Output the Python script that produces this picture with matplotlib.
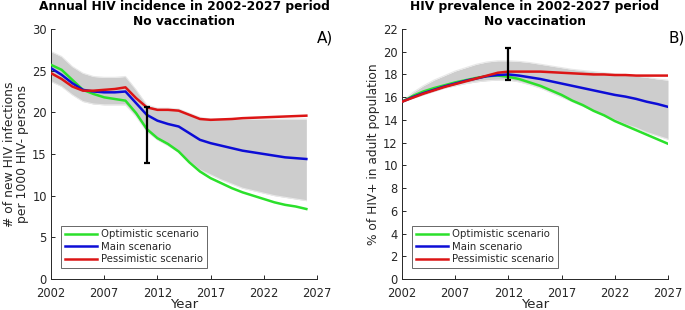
import matplotlib
matplotlib.use("Agg")
import matplotlib.pyplot as plt
import numpy as np

# ---------------- data ----------------
years_inc = list(range(2002, 2027))
inc_optimistic = [25.7, 25.1, 23.9, 22.7, 22.2, 21.8, 21.6, 21.4, 19.9, 18.0, 16.9, 16.2, 15.3,
                  14.0, 12.9, 12.1, 11.5, 10.9, 10.4, 10.0, 9.6, 9.2, 8.9, 8.7, 8.4]
inc_main = [25.3, 24.5, 23.5, 22.7, 22.5, 22.4, 22.4, 22.5, 21.1, 19.7, 19.0, 18.6, 18.3,
            17.5, 16.7, 16.3, 16.0, 15.7, 15.4, 15.2, 15.0, 14.8, 14.6, 14.5, 14.4]
inc_pessimistic = [24.7, 24.0, 23.1, 22.6, 22.6, 22.7, 22.8, 23.0, 21.7, 20.6, 20.3, 20.3, 20.2,
                   19.7, 19.2, 19.1, 19.15, 19.2, 19.3, 19.35, 19.4, 19.45, 19.5, 19.55, 19.6]
inc_band_upper = [27.3, 26.7, 25.5, 24.7, 24.3, 24.2, 24.2, 24.3, 22.7, 20.9, 20.5, 20.5, 20.4,
                  19.9, 19.4, 19.2, 19.2, 19.2, 19.2, 19.2, 19.2, 19.2, 19.2, 19.2, 19.2]
inc_band_lower = [23.7, 23.1, 22.1, 21.3, 21.0, 20.9, 20.9, 20.9, 19.5, 17.7, 16.7, 16.0, 15.2,
                  14.1, 13.1, 12.5, 11.9, 11.4, 10.9, 10.6, 10.3, 10.0, 9.8, 9.6, 9.4]
inc_err_year = 2011
inc_err_low, inc_err_high = 13.9, 20.7

years_prev = list(range(2002, 2028))
prev_optimistic = [15.6, 16.1, 16.5, 16.8, 17.05, 17.3, 17.5, 17.7, 17.85, 17.9, 17.8, 17.6, 17.3,
                   17.0, 16.6, 16.2, 15.7, 15.3, 14.8, 14.4, 13.9, 13.5, 13.1, 12.7, 12.3, 11.9]
prev_main = [15.6, 16.0, 16.35, 16.65, 16.95, 17.2, 17.45, 17.65, 17.85, 17.95, 18.0, 17.9, 17.75,
             17.6, 17.4, 17.2, 17.0, 16.8, 16.6, 16.4, 16.2, 16.05, 15.85, 15.6, 15.4, 15.15]
prev_pessimistic = [15.6, 15.95, 16.3, 16.6, 16.9, 17.15, 17.4, 17.65, 17.9, 18.15, 18.25, 18.25, 18.25,
                    18.25, 18.2, 18.15, 18.1, 18.05, 18.0, 18.0, 17.95, 17.95, 17.9, 17.9, 17.9, 17.9]
prev_band_upper = [15.6, 16.4, 17.0, 17.5, 17.9, 18.3, 18.6, 18.9, 19.1, 19.2, 19.2, 19.15, 19.05,
                   18.9, 18.75, 18.6, 18.45, 18.35, 18.25, 18.15, 18.05, 17.95, 17.85, 17.75, 17.6, 17.5]
prev_band_lower = [15.6, 15.9, 16.2, 16.5, 16.8, 17.0, 17.2, 17.35, 17.45, 17.5, 17.5, 17.35, 17.1,
                   16.8, 16.4, 16.0, 15.6, 15.2, 14.8, 14.4, 14.0, 13.6, 13.3, 12.9, 12.6, 12.3]
prev_err_year = 2012
prev_err_low, prev_err_high = 17.5, 20.3

legend_labels = ["Optimistic scenario", "Main scenario", "Pessimistic scenario"]
xticks = [2002, 2007, 2012, 2017, 2022, 2027]

# ---------------- style ----------------
C_GREEN = "#2be02b"
C_BLUE = "#0d0dd6"
C_RED = "#dc1515"
C_BAND = "#cdcdcd"
TXT = "#262626"
TITLE_FS = 8.8

plt.rcParams["font.family"] = ["DejaVu Sans"]

fig = plt.figure(figsize=(6.85, 3.10), dpi=100)
axA = fig.add_axes([51 / 685, 31 / 310, 266 / 685, 250 / 310])
axB = fig.add_axes([402 / 685, 31 / 310, 266 / 685, 250 / 310])


def panel(ax, yrs, opt, main, pes, up, lo, ey, elo, ehi, ylim, yticks, title1, title2,
          ylabel, ylsize, tag):
    ax.fill_between(yrs, lo, up, color=C_BAND, lw=0, zorder=1)
    ax.plot(yrs, up, color="#e8e8e8", lw=0.8, zorder=1.5)
    ax.plot(yrs, lo, color="#e8e8e8", lw=0.8, zorder=1.5)
    l1, = ax.plot(yrs, opt, color=C_GREEN, lw=1.8, zorder=3)
    l2, = ax.plot(yrs, main, color=C_BLUE, lw=1.8, zorder=3)
    l3, = ax.plot(yrs, pes, color=C_RED, lw=1.8, zorder=3)
    mid = (elo + ehi) / 2
    ax.errorbar([ey], [mid], yerr=[[mid - elo], [ehi - mid]], color="black",
                lw=1.6, capsize=2.5, capthick=1.6, fmt="none", zorder=4)
    ax.set_xlim(2002, 2027)
    ax.set_ylim(*ylim)
    ax.set_xticks(xticks)
    ax.set_yticks(yticks)
    for s in ["top", "right"]:
        ax.spines[s].set_visible(False)
    for s in ["left", "bottom"]:
        ax.spines[s].set_color(TXT)
        ax.spines[s].set_linewidth(0.7)
    ax.tick_params(direction="in", length=3, width=0.7, colors=TXT, labelsize=8.3,
                   labelcolor=TXT)
    ax.tick_params(axis="x", pad=5.5)
    ax.tick_params(axis="y", pad=3)
    ax.set_title(title2, fontsize=TITLE_FS, fontweight="bold", color="black", pad=3)
    ax.annotate(title1, xy=(0.5, 1.0), xycoords="axes fraction", xytext=(0, 3 + TITLE_FS * 1.25),
                textcoords="offset points", ha="center", va="baseline",
                fontsize=TITLE_FS, fontweight="bold", color="black", annotation_clip=False)
    ax.set_xlabel("Year", fontsize=9.5, color=TXT, labelpad=-1)
    ax.set_ylabel(ylabel, fontsize=ylsize, color=TXT, labelpad=2, linespacing=1.0)
    ax.text(1.0, 0.995, tag, transform=ax.transAxes, fontsize=11, ha="left", va="top", color="black")
    leg = ax.legend([l1, l2, l3], legend_labels, loc="lower left", bbox_to_anchor=(0.038, 0.044),
                    fontsize=7.3, frameon=True, fancybox=False, edgecolor="#404040",
                    handlelength=3.2, handletextpad=0.4, borderpad=0.35, labelspacing=0.25,
                    borderaxespad=0)
    leg.get_frame().set_linewidth(0.7)
    for t in leg.get_texts():
        t.set_color(TXT)


panel(axA, years_inc, inc_optimistic, inc_main, inc_pessimistic, inc_band_upper, inc_band_lower,
      inc_err_year, inc_err_low, inc_err_high, (0, 30), [0, 5, 10, 15, 20, 25, 30],
      "Annual HIV incidence in 2002-2027 period", "No vaccination",
      "# of new HIV infections\nper 1000 HIV- persons", 8.9, "A)")
panel(axB, years_prev, prev_optimistic, prev_main, prev_pessimistic, prev_band_upper, prev_band_lower,
      prev_err_year, prev_err_low, prev_err_high, (0, 22), list(range(0, 23, 2)),
      "HIV prevalence in 2002-2027 period", "No vaccination",
      "% of HIV+ in adult population", 8.8, "B)")

fig.savefig("out.png", dpi=100)
